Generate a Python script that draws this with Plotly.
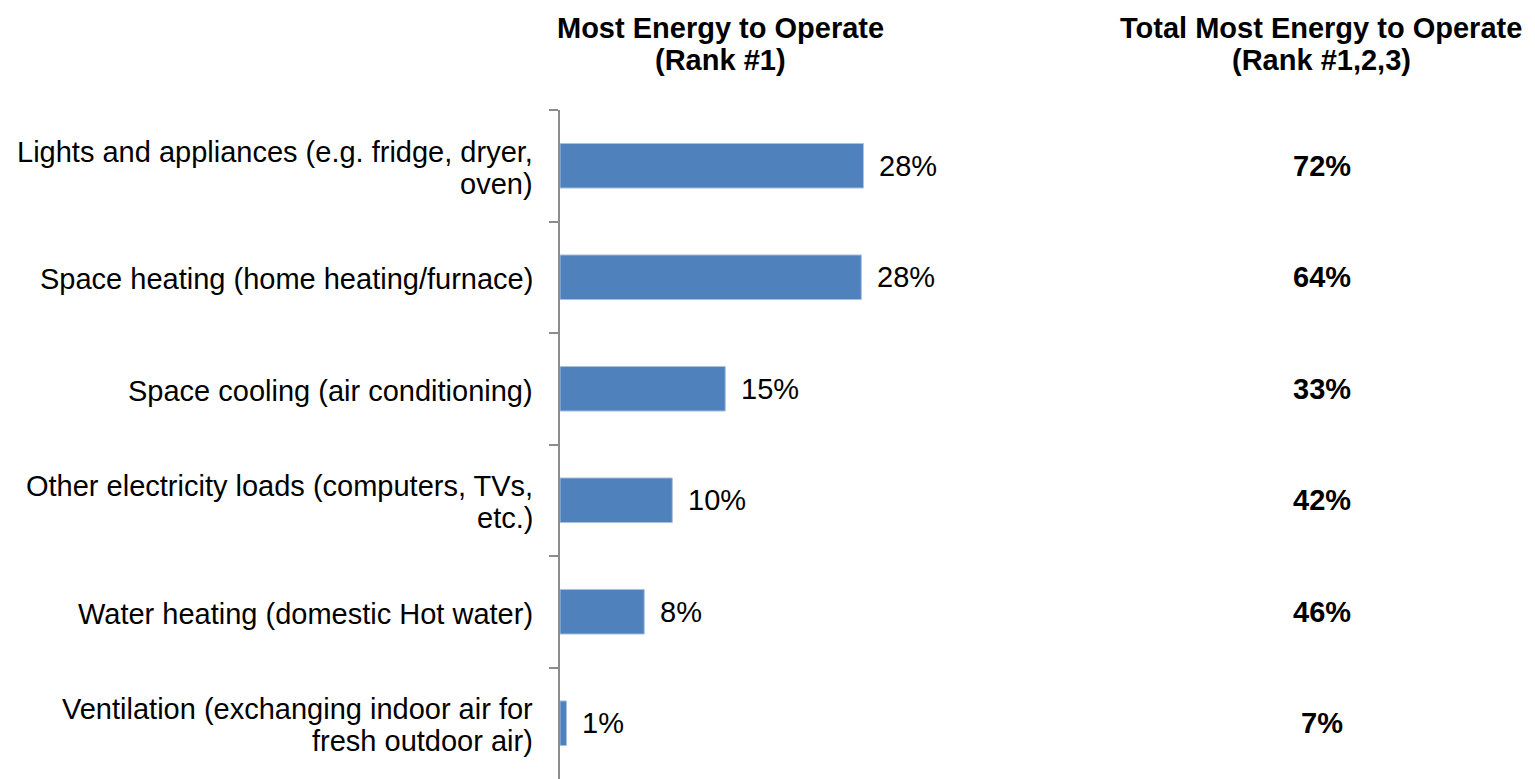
import plotly.graph_objects as go

categories = [
    "Lights and appliances (e.g. fridge, dryer,<br>oven)",
    "Space heating (home heating/furnace)",
    "Space cooling (air conditioning)",
    "Other electricity loads (computers, TVs,<br>etc.)",
    "Water heating (domestic Hot water)",
    "Ventilation (exchanging indoor air for<br>fresh outdoor air)",
]
rank1_values = [28.1, 27.9, 15.3, 10.4, 7.8, 0.6]
rank1_labels = ["28%", "28%", "15%", "10%", "8%", "1%"]
total_labels = ["72%", "64%", "33%", "42%", "46%", "7%"]
header_left = ["Most Energy to Operate", "(Rank #1)"]
header_right = ["Total Most Energy to Operate", "(Rank #1,2,3)"]

# page has an 8px body margin; figure coordinates are page coordinates minus 8
OFF = 8
W, H = 1535 - OFF, 779 - OFF
L, T = 560 - OFF, 110 - OFF
plot_w = W - L
plot_h = H - T
px_per_unit = 10.8
FONT = "Liberation Sans, Arial, sans-serif"
FS = 29
LINE = 32

fig = go.Figure()
fig.add_trace(go.Bar(
    y=categories, x=rank1_values, orientation="h",
    marker=dict(color="#4F81BD", line=dict(color="#A9C2E0", width=1)),
    hoverinfo="skip", showlegend=False,
))

# category labels (right aligned, left of the axis)
for cat in categories:
    lines = cat.split("<br>")
    n = len(lines)
    for i, ln in enumerate(lines):
        fig.add_annotation(x=0, y=cat, xref="paper", yref="y", text=ln,
                           showarrow=False, xanchor="right", yanchor="middle",
                           xshift=-25, yshift=((n - 1) / 2 - i) * LINE - 2,
                           font=dict(family=FONT, size=FS, color="black"))

for cat, val, lab in zip(categories, rank1_values, rank1_labels):
    fig.add_annotation(x=val, y=cat, xref="x", yref="y", text=lab,
                       showarrow=False, xanchor="left", xshift=14,
                       font=dict(family=FONT, size=FS, color="black"))

right_x = (1322 - OFF - L) / plot_w
for cat, lab in zip(categories, total_labels):
    fig.add_annotation(x=right_x, y=cat, xref="paper", yref="y",
                       text="<b>" + lab + "</b>",
                       showarrow=False, xanchor="center",
                       font=dict(family=FONT, size=FS, color="black"))

def add_header(lines, cx_page):
    for i, ln in enumerate(lines):
        yc_page = 28 + i * LINE
        fig.add_annotation(x=(cx_page - OFF - L) / plot_w,
                           y=1 + (T - (yc_page - OFF)) / plot_h,
                           xref="paper", yref="paper", text="<b>" + ln + "</b>",
                           showarrow=False, xanchor="center", yanchor="middle",
                           font=dict(family=FONT, size=FS, color="black"))

add_header(header_left, 720)
add_header(header_right, 1321)

fig.update_layout(
    width=W, height=H,
    margin=dict(l=L, r=0, t=T, b=0, pad=0),
    paper_bgcolor="white", plot_bgcolor="white",
    bargap=0.6,
    font=dict(family=FONT, size=FS, color="black"),
    xaxis=dict(range=[0, plot_w / px_per_unit], visible=False, showgrid=False, zeroline=False),
    yaxis=dict(
        categoryorder="array", categoryarray=categories,
        range=[5.5, -0.5],
        showline=True, linecolor="#8C8C8C", linewidth=2,
        ticks="outside", ticklen=9, tickcolor="#8C8C8C", tickwidth=2,
        tickson="boundaries", showgrid=False, zeroline=False,
        showticklabels=False,
    ),
)

fig.write_html("out.html")
